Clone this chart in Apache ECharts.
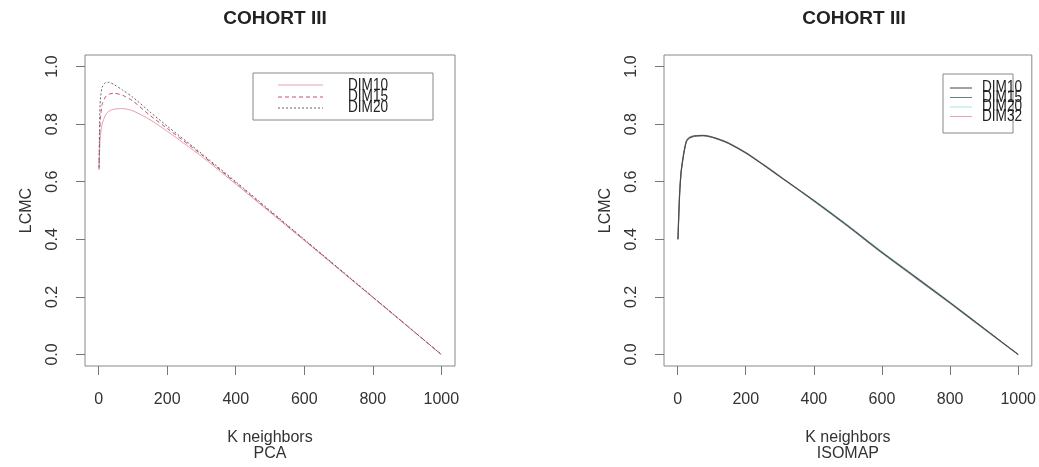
<!DOCTYPE html>
<html>
<head>
<meta charset="utf-8">
<script src="https://cdn.jsdelivr.net/npm/echarts@6/dist/echarts.min.js"></script>
<style>
  html, body { margin: 0; padding: 0; background: #fff; }
  #chart { width: 1039px; height: 467px; }
</style>
</head>
<body>
<div id="chart"></div>
<script>
// tick values
const xTicks = [0, 200, 400, 600, 800, 1000]
const yTicks = [0, 0.2, 0.4, 0.6, 0.8, 1.0]

// PCA panel (left)
const pcaK = [1, 3, 5, 10, 20, 30, 45, 70, 100, 150, 200, 300, 400, 500, 600, 700, 800, 900, 1000]
const pcaDim10 = [0.64, 0.72, 0.76, 0.80, 0.832, 0.845, 0.852, 0.854, 0.846, 0.815, 0.775, 0.688, 0.592, 0.494, 0.396, 0.297, 0.198, 0.099, 0]
const pcaDim15 = [0.645, 0.77, 0.82, 0.868, 0.895, 0.904, 0.907, 0.9, 0.88, 0.83, 0.785, 0.694, 0.596, 0.497, 0.398, 0.298, 0.199, 0.1, 0]
const pcaDim20 = [0.65, 0.83, 0.885, 0.928, 0.944, 0.945, 0.937, 0.918, 0.893, 0.842, 0.793, 0.698, 0.6, 0.5, 0.4, 0.3, 0.2, 0.1, 0]

// ISOMAP panel (right)
const isoK = [1, 3, 6, 10, 15, 20, 26, 35, 50, 75, 100, 125, 150, 200, 250, 300, 400, 500, 600, 700, 800, 900, 1000]
const isoDim10 = [0.40, 0.47, 0.56, 0.63, 0.675, 0.71, 0.74, 0.752, 0.758, 0.76, 0.755, 0.745, 0.733, 0.70, 0.66, 0.618, 0.535, 0.447, 0.355, 0.268, 0.18, 0.09, 0]
const isoDim15 = [0.40, 0.472, 0.562, 0.632, 0.677, 0.712, 0.742, 0.754, 0.76, 0.761, 0.756, 0.746, 0.734, 0.701, 0.661, 0.619, 0.533, 0.445, 0.353, 0.266, 0.179, 0.089, 0]
const isoDim20 = [0.40, 0.468, 0.558, 0.628, 0.673, 0.708, 0.738, 0.75, 0.757, 0.759, 0.754, 0.744, 0.732, 0.699, 0.659, 0.617, 0.537, 0.45, 0.358, 0.271, 0.183, 0.092, 0]
const isoDim32 = [0.40, 0.469, 0.559, 0.629, 0.674, 0.709, 0.739, 0.751, 0.757, 0.759, 0.754, 0.744, 0.732, 0.699, 0.659, 0.616, 0.533, 0.444, 0.352, 0.264, 0.177, 0.087, 0]

const font = 'Liberation Sans, Arial, sans-serif'
const chart = echarts.init(document.getElementById('chart'))

const zip = (ks, vs) => ks.map((k, i) => [k, vs[i]])

function xAxisOf(idx, label) {
  return {
    type: 'value',
    gridIndex: idx,
    min: -40,
    max: 1040,
    splitLine: { show: false },
    axisLine: { show: false, onZero: false },
    axisTick: { show: true, length: 9, customValues: xTicks, lineStyle: { color: '#777' } },
    axisLabel: { customValues: xTicks, formatter: (v) => String(v), fontSize: 16, color: '#333', fontFamily: font, margin: 26 },
    name: label,
    nameLocation: 'middle',
    nameGap: 64,
    nameTextStyle: { fontSize: 16, lineHeight: 16, color: '#333', fontFamily: font },
  }
}

function yAxisOf(idx) {
  return {
    type: 'value',
    gridIndex: idx,
    min: -0.04,
    max: 1.04,
    splitLine: { show: false },
    axisLine: { show: false, onZero: false },
    axisTick: { show: true, length: 9, customValues: yTicks, lineStyle: { color: '#777' } },
    axisLabel: {
      customValues: yTicks,
      formatter: (v) => v.toFixed(1),
      rotate: 90,
      fontSize: 16,
      color: '#333',
      fontFamily: font,
      margin: 24,
    },
    name: 'LCMC',
    nameLocation: 'middle',
    nameGap: 50,
    nameMoveOverlap: false,
    nameTextStyle: { fontSize: 16, color: '#333', fontFamily: font },
  }
}

function line(name, idx, data, color, type, width, z) {
  return {
    name: name,
    type: 'line',
    xAxisIndex: idx,
    yAxisIndex: idx,
    data: data,
    symbol: 'none',
    smooth: 0.25,
    z: z || 2,
    lineStyle: { color: color, width: width || 1, type: type || 'solid' },
    emphasis: { disabled: true },
  }
}

// legend drawn by hand (R style, rows squeezed together)
function legendText(text, x, y) {
  return {
    type: 'text', x: x, y: y, scaleX: 0.85,
    style: { text: text, fontSize: 16, fontFamily: font, fill: '#222', verticalAlign: 'middle' },
  }
}
function legendLine(x1, x2, y, color, dash) {
  return {
    type: 'line', shape: { x1: x1, y1: y, x2: x2, y2: y },
    style: { stroke: color, lineWidth: 1, lineDash: dash || null },
  }
}

const leftColors = ['#e8a0b0', '#c8506a', '#666']
const rightColors = ['#444', '#6f8080', '#a8e4e4', '#eaa0b8']

const option = {
  animation: false,
  backgroundColor: '#fff',
  title: [
    { text: 'COHORT III', left: 270, top: 4, textAlign: 'center',
      textStyle: { fontSize: 19, fontWeight: 'bold', color: '#222', fontFamily: font } },
    { text: 'COHORT III', left: 849, top: 4, textAlign: 'center',
      textStyle: { fontSize: 19, fontWeight: 'bold', color: '#222', fontFamily: font } },
  ],
  grid: [
    { left: 85, top: 55, width: 370, height: 311, show: true, borderColor: '#888', borderWidth: 1 },
    { left: 664, top: 55, width: 370, height: 311, show: true, borderColor: '#888', borderWidth: 1 },
  ],
  xAxis: [xAxisOf(0, 'K neighbors\nPCA'), xAxisOf(1, 'K neighbors\nISOMAP')],
  yAxis: [yAxisOf(0), yAxisOf(1)],
  series: [
    line('DIM10', 0, zip(pcaK, pcaDim10), leftColors[0]),
    line('DIM15', 0, zip(pcaK, pcaDim15), leftColors[1], [4, 3]),
    line('DIM20', 0, zip(pcaK, pcaDim20), leftColors[2], [2, 2]),
    line('DIM20', 1, zip(isoK, isoDim20), rightColors[2], 'solid', 1, 2),
    line('DIM32', 1, zip(isoK, isoDim32), rightColors[3], 'solid', 1, 2),
    line('DIM15', 1, zip(isoK, isoDim15), rightColors[1], 'solid', 1.3, 3),
    line('DIM10', 1, zip(isoK, isoDim10), rightColors[0], 'solid', 1, 4),
  ],
  graphic: [
    { type: 'rect', shape: { x: 253, y: 73, width: 180, height: 47 },
      style: { fill: '#fff', stroke: '#888', lineWidth: 1 } },
    legendLine(278, 323, 85, leftColors[0]),
    legendLine(278, 323, 97, leftColors[1], [4, 3]),
    legendLine(278, 323, 108, leftColors[2], [2, 2]),
    legendText('DIM10', 348, 86),
    legendText('DIM15', 348, 97),
    legendText('DIM20', 348, 108),

    { type: 'rect', shape: { x: 943, y: 74, width: 70, height: 59 },
      style: { fill: '#fff', stroke: '#888', lineWidth: 1 } },
    legendLine(950, 972, 88, rightColors[0]),
    legendLine(950, 972, 97.5, rightColors[1]),
    legendLine(950, 972, 107, rightColors[2]),
    legendLine(950, 972, 116.5, rightColors[3]),
    legendText('DIM10', 982, 88),
    legendText('DIM15', 982, 97.5),
    legendText('DIM20', 982, 107),
    legendText('DIM32', 982, 116.5),
  ],
}

chart.setOption(option)
</script>
</body>
</html>
